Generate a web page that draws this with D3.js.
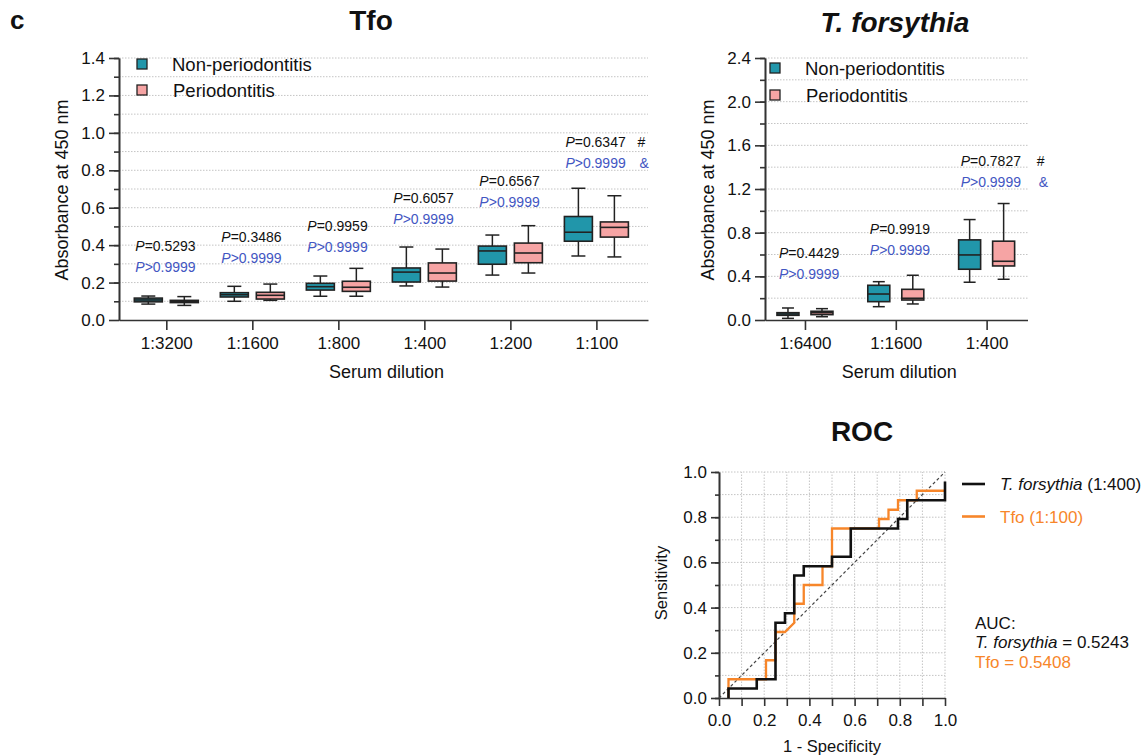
<!DOCTYPE html>
<html lang="en">
<head>
<meta charset="UTF-8">
<title>Tfo / T. forsythia ELISA and ROC</title>
<script src="https://cdnjs.cloudflare.com/ajax/libs/d3/7.8.5/d3.min.js"></script>
<style>
  body { margin: 0; background: #fff; }
  text { font-family: "Liberation Sans", Arial, sans-serif; fill: #111; }
</style>
</head>
<body>
<script>
    // ---------- data ----------
    var groups = ["Non-periodontitis", "Periodontitis"];

    // Tfo panel, each box = [min, q1, median, q3, max]
    var tfoDilutions = ["1:3200", "1:1600", "1:800", "1:400", "1:200", "1:100"];
    var tfoNonPerio = [
        [0.085, 0.097, 0.107, 0.117, 0.128],
        [0.100, 0.123, 0.135, 0.146, 0.180],
        [0.127, 0.160, 0.178, 0.196, 0.235],
        [0.182, 0.203, 0.256, 0.278, 0.390],
        [0.240, 0.298, 0.369, 0.395, 0.454],
        [0.342, 0.421, 0.469, 0.553, 0.704]
    ];
    var tfoPerio = [
        [0.078, 0.093, 0.100, 0.105, 0.125],
        [0.105, 0.112, 0.132, 0.148, 0.192],
        [0.127, 0.153, 0.175, 0.207, 0.276],
        [0.176, 0.208, 0.251, 0.305, 0.379],
        [0.251, 0.306, 0.358, 0.411, 0.504],
        [0.337, 0.443, 0.495, 0.524, 0.664]
    ];
    var tfoP = ["=0.5293", "=0.3486", "=0.9959", "=0.6057", "=0.6567", "=0.6347"];
    var tfoAdjP = [">0.9999", ">0.9999", ">0.9999", ">0.9999", ">0.9999", ">0.9999"];
    var tfoLabelAt = [0.395, 0.445, 0.502, 0.652, 0.745, 0.953]; // absorbance level of the P text
    var tfoHash = ["", "", "", "", "", "#"];
    var tfoAmp = ["", "", "", "", "", "&"];

    // T. forsythia panel
    var tfDilutions = ["1:6400", "1:1600", "1:400"];
    var tfNonPerio = [
        [0.015, 0.043, 0.055, 0.067, 0.110],
        [0.122, 0.168, 0.238, 0.318, 0.351],
        [0.346, 0.465, 0.596, 0.734, 0.920]
    ];
    var tfPerio = [
        [0.030, 0.049, 0.067, 0.080, 0.104],
        [0.147, 0.183, 0.199, 0.281, 0.410],
        [0.373, 0.495, 0.538, 0.722, 1.067]
    ];
    var tfP = ["=0.4429", "=0.9919", "=0.7827"];
    var tfAdjP = [">0.9999", ">0.9999", ">0.9999"];
    var tfLabelAt = [0.615, 0.835, 1.459];
    var tfHash = ["", "", "#"];
    var tfAmp = ["", "", "&"];

    // ROC curves (1 - specificity, sensitivity)
    var rocTfX = [0.042, 0.042, 0.167, 0.167, 0.25, 0.25, 0.292, 0.292, 0.333, 0.333, 0.375, 0.375,
                  0.5, 0.5, 0.583, 0.583, 0.792, 0.792, 0.833, 0.833, 1, 1];
    var rocTfY = [0, 0.042, 0.042, 0.083, 0.083, 0.333, 0.333, 0.375, 0.375, 0.542, 0.542, 0.583,
                  0.583, 0.625, 0.625, 0.75, 0.75, 0.792, 0.792, 0.875, 0.875, 0.958];
    var rocTfoX = [0.042, 0.042, 0.208, 0.208, 0.25, 0.25, 0.292, 0.333, 0.333, 0.375, 0.375, 0.458,
                   0.458, 0.5, 0.5, 0.708, 0.708, 0.75, 0.75, 0.792, 0.792, 0.875, 0.875, 1];
    var rocTfoY = [0, 0.083, 0.083, 0.167, 0.167, 0.292, 0.292, 0.333, 0.417, 0.417, 0.5, 0.5,
                   0.583, 0.583, 0.75, 0.75, 0.792, 0.792, 0.833, 0.833, 0.875, 0.875, 0.917, 0.917];
    var rocNames = ["T. forsythia (1:400)", "Tfo (1:100)"];
    var aucTf = "0.5243", aucTfo = "0.5408";

    // ---------- style ----------
    var teal = "#2196aa", pink = "#f6a4a4", blue = "#4256c2", orange = "#f7862a",
        axisColor = "#333", gridColor = "#c4c4c4";

    var svg = d3.select("body").append("svg")
        .attr("width", 1143)
        .attr("height", 755);

    function styleAxis(sel, fontSize) {
        sel.selectAll("path, line").attr("stroke", axisColor).attr("stroke-width", 1.6);
        sel.selectAll("text").attr("font-size", fontSize).attr("fill", "#111")
            .style("font-family", '"Liberation Sans", Arial, sans-serif');
    }

    function boxPanel(p) {
        var x = d3.scaleLinear().domain(p.xDomain).range(p.xRange);
        var y = d3.scaleLinear().domain([0, p.yMax]).range([320, 58]);
        var g = svg.append("g");
        var n = Math.round(p.yMax / p.gridStep);
        var gridVals = d3.range(1, n + 1).map(function(i) { return +(i * p.gridStep).toFixed(3); });

        g.selectAll("line.grid").data(gridVals).enter().append("line")
            .attr("x1", p.xRange[0]).attr("x2", p.xRange[1])
            .attr("y1", function(d) { return y(d); }).attr("y2", function(d) { return y(d); })
            .attr("stroke", gridColor).attr("stroke-width", 1).attr("stroke-dasharray", "1.5,1.5");

        // minor ticks
        g.append("g").attr("transform", "translate(" + p.xRange[0] + ",0)")
            .call(d3.axisLeft(y).tickValues(gridVals).tickSize(5).tickFormat("").tickSizeOuter(0))
            .call(styleAxis, 17);
        var majorVals = d3.range(0, Math.round(p.yMax / p.yMajor) + 1).map(function(i) { return +(i * p.yMajor).toFixed(3); });
        g.append("g").attr("transform", "translate(" + p.xRange[0] + ",0)")
            .call(d3.axisLeft(y).tickValues(majorVals).tickSize(10).tickPadding(4)
                .tickFormat(d3.format(".1f")).tickSizeOuter(0))
            .call(styleAxis, 17);
        g.append("g").attr("transform", "translate(0,320)")
            .call(d3.axisBottom(x).tickValues(d3.range(p.cats.length)).tickSize(10).tickPadding(7)
                .tickFormat(function(i) { return p.cats[i]; }).tickSizeOuter(0))
            .call(styleAxis, 17);

        // boxes
        [p.nonPerio, p.perio].forEach(function(series, k) {
            var off = k === 0 ? -p.off : p.off;
            var bg = g.selectAll("g.box" + k).data(series).enter().append("g");
            var cx = function(d, i) { return x(i) + off; };
            bg.append("line").attr("x1", cx).attr("x2", cx)
                .attr("y1", function(d) { return y(d[0]); }).attr("y2", function(d) { return y(d[4]); })
                .attr("stroke", "#222").attr("stroke-width", 1.5);
            [0, 4].forEach(function(j) {
                bg.append("line")
                    .attr("x1", function(d, i) { return cx(d, i) - p.cap / 2; })
                    .attr("x2", function(d, i) { return cx(d, i) + p.cap / 2; })
                    .attr("y1", function(d) { return y(d[j]); }).attr("y2", function(d) { return y(d[j]); })
                    .attr("stroke", "#222").attr("stroke-width", 1.5);
            });
            bg.append("rect")
                .attr("x", function(d, i) { return cx(d, i) - p.bw / 2; })
                .attr("width", p.bw)
                .attr("y", function(d) { return y(d[3]); })
                .attr("height", function(d) { return y(d[1]) - y(d[3]); })
                .attr("fill", k === 0 ? teal : pink).attr("stroke", "#222").attr("stroke-width", 1.6);
            bg.append("line")
                .attr("x1", function(d, i) { return cx(d, i) - p.bw / 2; })
                .attr("x2", function(d, i) { return cx(d, i) + p.bw / 2; })
                .attr("y1", function(d) { return y(d[2]); }).attr("y2", function(d) { return y(d[2]); })
                .attr("stroke", "#222").attr("stroke-width", 1.6);
        });

        // P value labels
        p.cats.forEach(function(c, i) {
            var lx = x(i) + p.labelDx, ly = y(p.labelAt[i]) + 5;
            var t1 = g.append("text").attr("x", lx).attr("y", ly).attr("font-size", 14);
            t1.append("tspan").attr("font-style", "italic").text("P");
            t1.append("tspan").text(p.pv[i]);
            var t2 = g.append("text").attr("x", lx).attr("y", ly + 21).attr("font-size", 14).style("fill", blue);
            t2.append("tspan").attr("font-style", "italic").text("P");
            t2.append("tspan").text(p.adj[i]);
            if (p.hash[i]) {
                g.append("text").attr("x", x(i) + p.markDx).attr("y", ly).attr("font-size", 14).text(p.hash[i]);
                g.append("text").attr("x", x(i) + p.markDx + 2).attr("y", ly + 21).attr("font-size", 14)
                    .style("fill", blue).text(p.amp[i]);
            }
        });

        // legend
        groups.forEach(function(name, k) {
            var ly = p.legY + k * p.legGap;
            g.append("rect").attr("x", p.legX - 5).attr("y", ly - 5).attr("width", 10).attr("height", 10)
                .attr("fill", k === 0 ? teal : pink).attr("stroke", "#222").attr("stroke-width", 1.3);
            g.append("text").attr("x", p.legX + p.legTextDx + k).attr("y", ly + 6.5).attr("font-size", 18.5).text(name);
        });

        // titles
        g.append("text").attr("transform", "translate(" + p.yLabX + ",190) rotate(-90)")
            .attr("text-anchor", "middle").attr("font-size", 18).text("Absorbance at 450 nm");
        g.append("text").attr("x", (p.xRange[0] + p.xRange[1]) / 2 + 3).attr("y", 378)
            .attr("text-anchor", "middle").attr("font-size", 18).text("Serum dilution");
    }

    boxPanel({
        cats: tfoDilutions, nonPerio: tfoNonPerio, perio: tfoPerio,
        pv: tfoP, adj: tfoAdjP, labelAt: tfoLabelAt, hash: tfoHash, amp: tfoAmp,
        xDomain: [-0.55, 5.6], xRange: [119, 648], yMax: 1.4, yMajor: 0.2, gridStep: 0.1,
        off: 18, bw: 28, cap: 14, labelDx: -31, markDx: 41,
        legX: 142, legY: 64, legGap: 26, legTextDx: 30, yLabX: 68
    });

    boxPanel({
        cats: tfDilutions, nonPerio: tfNonPerio, perio: tfPerio,
        pv: tfP, adj: tfAdjP, labelAt: tfLabelAt, hash: tfHash, amp: tfAmp,
        xDomain: [-0.44, 2.45], xRange: [765, 1027.5], yMax: 2.4, yMajor: 0.4, gridStep: 0.2,
        off: 17, bw: 22, cap: 12, labelDx: -26, markDx: 50,
        legX: 775, legY: 68, legGap: 27, legTextDx: 30, yLabX: 714
    });

    // panel titles
    svg.append("text").attr("x", 10).attr("y", 29).attr("font-size", 26).attr("font-weight", "bold").text("c");
    svg.append("text").attr("x", 371).attr("y", 30).attr("text-anchor", "middle")
        .attr("font-size", 28).attr("font-weight", "bold").text("Tfo");
    svg.append("text").attr("x", 895).attr("y", 32).attr("text-anchor", "middle")
        .attr("font-size", 28).attr("font-weight", "bold").attr("font-style", "italic").text("T. forsythia");

    // ---------- ROC ----------
    var rx = d3.scaleLinear().domain([0, 1]).range([719, 945]);
    var ry = d3.scaleLinear().domain([0, 1]).range([698, 472]);
    var rg = svg.append("g");
    var tenths = d3.range(0, 11).map(function(i) { return i / 10; });

    rg.selectAll("line.hgrid").data(tenths.slice(1)).enter().append("line")
        .attr("x1", rx(0)).attr("x2", rx(1))
        .attr("y1", function(d) { return ry(d); }).attr("y2", function(d) { return ry(d); })
        .attr("stroke", gridColor).attr("stroke-dasharray", "1.5,1.5");
    rg.selectAll("line.vgrid").data(tenths.slice(1)).enter().append("line")
        .attr("y1", ry(0)).attr("y2", ry(1))
        .attr("x1", function(d) { return rx(d); }).attr("x2", function(d) { return rx(d); })
        .attr("stroke", gridColor).attr("stroke-dasharray", "1.5,1.5");

    rg.append("g").attr("transform", "translate(719,0)")
        .call(d3.axisLeft(ry).tickValues(tenths).tickSize(4).tickFormat("").tickSizeOuter(0))
        .call(styleAxis, 17);
    rg.append("g").attr("transform", "translate(719,0)")
        .call(d3.axisLeft(ry).tickValues([0, 0.2, 0.4, 0.6, 0.8, 1]).tickSize(8).tickPadding(4)
            .tickFormat(d3.format(".1f")).tickSizeOuter(0))
        .call(styleAxis, 17);
    rg.append("g").attr("transform", "translate(0,698)")
        .call(d3.axisBottom(rx).tickValues(tenths).tickSize(8).tickPadding(8)
            .tickFormat(function(d, i) { return i % 2 === 0 ? d3.format(".1f")(d) : ""; }).tickSizeOuter(0))
        .call(styleAxis, 17);

    rg.append("line").attr("x1", rx(0)).attr("y1", ry(0)).attr("x2", rx(1)).attr("y2", ry(1))
        .attr("stroke", "#444").attr("stroke-width", 1.2).attr("stroke-dasharray", "3,2.5");

    var rocLine = d3.line().x(function(d) { return rx(d[0]); }).y(function(d) { return ry(d[1]); });
    rg.append("path").datum(d3.zip(rocTfoX, rocTfoY)).attr("d", rocLine)
        .attr("fill", "none").attr("stroke", orange).attr("stroke-width", 2.3);
    rg.append("path").datum(d3.zip(rocTfX, rocTfY)).attr("d", rocLine)
        .attr("fill", "none").attr("stroke", "#111").attr("stroke-width", 2.6);

    // legend
    rg.append("line").attr("x1", 962).attr("x2", 985).attr("y1", 484).attr("y2", 484)
        .attr("stroke", "#111").attr("stroke-width", 2.6);
    rg.append("line").attr("x1", 962).attr("x2", 985).attr("y1", 516.5).attr("y2", 516.5)
        .attr("stroke", orange).attr("stroke-width", 2.6);
    var lt = rg.append("text").attr("x", 1000).attr("y", 490).attr("font-size", 17);
    lt.append("tspan").attr("font-style", "italic").text("T. forsythia");
    lt.append("tspan").text(rocNames[0].replace("T. forsythia", ""));
    rg.append("text").attr("x", 1000).attr("y", 522.5).attr("font-size", 17).style("fill", orange).text(rocNames[1]);

    rg.append("text").attr("x", 975).attr("y", 628.5).attr("font-size", 17).text("AUC:");
    var at = rg.append("text").attr("x", 975).attr("y", 648).attr("font-size", 17);
    at.append("tspan").attr("font-style", "italic").text("T. forsythia");
    at.append("tspan").text(" = " + aucTf);
    rg.append("text").attr("x", 975).attr("y", 667.5).attr("font-size", 17).style("fill", orange)
        .text("Tfo = " + aucTfo);

    rg.append("text").attr("x", 862).attr("y", 441).attr("text-anchor", "middle")
        .attr("font-size", 28).attr("font-weight", "bold").text("ROC");
    rg.append("text").attr("transform", "translate(667,583) rotate(-90)").attr("text-anchor", "middle")
        .attr("font-size", 16.5).text("Sensitivity");
    rg.append("text").attr("x", 832).attr("y", 752).attr("text-anchor", "middle")
        .attr("font-size", 16.5).text("1 - Specificity");
</script>
</body>
</html>
